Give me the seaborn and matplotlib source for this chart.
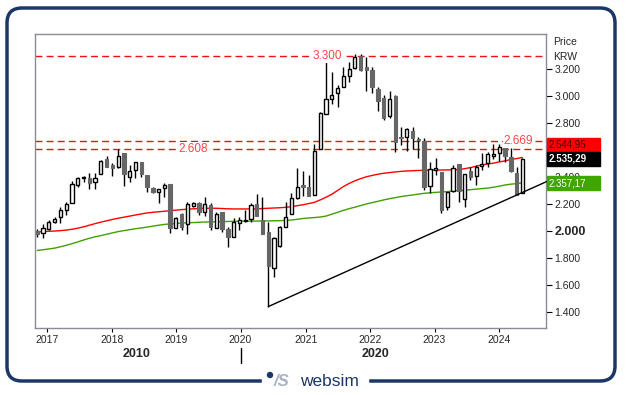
import pandas as pd
import seaborn as sns
import matplotlib.pyplot as plt
from matplotlib.patches import Rectangle, FancyBboxPatch, Circle

# Monthly candles (KRW)
opens = [2000, 1982, 2014, 2064, 2101, 2156, 2205, 2341, 2391, 2391, 2361, 2420, 2532, 2490, 2472,
         2576, 2403, 2453, 2509, 2415, 2319, 2292, 2316, 2349, 2024, 2126, 2049, 2188, 2205, 2143,
         2193, 2024, 2138, 2014, 1953, 2062, 2076, 2089, 2200, 2081, 1995, 1727, 1891, 2032, 2123,
         2247, 2341, 2329, 2267, 2608, 2868, 2977, 3022, 3071, 3151, 3207, 3299, 3215, 3195, 3054,
         2985, 2853, 3002, 2700, 2695, 2742, 2683, 2668, 2336, 2453, 2440, 2180, 2297, 2497, 2237,
         2448, 2410, 2485, 2502, 2556, 2581, 2646, 2547, 2428, 2279]
highs = [2014, 2052, 2081, 2101, 2180, 2217, 2373, 2403, 2410, 2428, 2428, 2527, 2556, 2507, 2608,
         2576, 2490, 2509, 2509, 2415, 2329, 2314, 2354, 2349, 2106, 2131, 2217, 2217, 2217, 2255,
         2210, 2143, 2138, 2032, 2094, 2106, 2156, 2205, 2274, 2255, 2069, 1958, 2037, 2212, 2279,
         2465, 2445, 2415, 2646, 2880, 3299, 3183, 3084, 3220, 3257, 3314, 3314, 3289, 3215, 3066,
         3009, 3039, 3009, 2774, 2767, 2774, 2695, 2688, 2514, 2544, 2440, 2292, 2490, 2497, 2423,
         2477, 2490, 2581, 2589, 2646, 2646, 2668, 2613, 2477, 2539]
lows = [1955, 1945, 2007, 2057, 2062, 2116, 2205, 2329, 2363, 2309, 2309, 2420, 2472, 2408, 2465,
        2336, 2366, 2396, 2398, 2292, 2279, 2210, 2255, 1982, 2024, 2007, 1977, 2180, 2116, 2111,
        2007, 2024, 1995, 1883, 1953, 2007, 2069, 2069, 2113, 1977, 1438, 1656, 1883, 2027, 2123,
        2235, 2262, 2262, 2267, 2608, 2868, 2943, 2923, 3066, 3108, 3200, 3190, 3042, 3022, 2893,
        2824, 2836, 2589, 2638, 2596, 2606, 2539, 2304, 2279, 2415, 2131, 2156, 2287, 2217, 2175,
        2378, 2341, 2453, 2477, 2532, 2519, 2514, 2440, 2267, 2279]
closes = [1980, 2022, 2064, 2086, 2153, 2200, 2346, 2391, 2401, 2358, 2391, 2519, 2472, 2465, 2559,
          2420, 2443, 2509, 2423, 2324, 2287, 2314, 2341, 2024, 2094, 2032, 2200, 2205, 2141, 2198,
          2032, 2126, 2014, 1958, 2069, 2081, 2081, 2193, 2113, 1977, 1742, 1945, 2027, 2101, 2242,
          2324, 2324, 2262, 2594, 2873, 2977, 3009, 3064, 3151, 3200, 3294, 3195, 3195, 3066, 2967,
          2836, 2980, 2663, 2688, 2754, 2688, 2675, 2329, 2457, 2465, 2156, 2287, 2465, 2297, 2423,
          2403, 2477, 2495, 2569, 2571, 2626, 2556, 2448, 2267, 2535]

# moving averages
ma_red = [1993, 1995, 1997, 1999, 2002, 2006, 2012, 2020, 2030, 2042, 2054, 2065, 2075, 2085, 2094,
          2102, 2110, 2118, 2126, 2133, 2138, 2142, 2146, 2150, 2154, 2158, 2161, 2164, 2167, 2168,
          2168, 2168, 2166, 2164, 2163, 2163, 2163, 2163, 2164, 2166, 2168, 2170, 2172, 2175, 2180,
          2187, 2194, 2203, 2212, 2230, 2250, 2272, 2300, 2329, 2352, 2372, 2388, 2402, 2412, 2421,
          2428, 2433, 2438, 2442, 2445, 2447, 2449, 2450, 2451, 2452, 2452, 2453, 2453, 2455, 2462,
          2470, 2480, 2490, 2497, 2503, 2512, 2520, 2530, 2537, 2545]
ma_green = [1855, 1860, 1866, 1872, 1882, 1893, 1905, 1918, 1932, 1945, 1956, 1965, 1975, 1985, 1995,
            2002, 2009, 2016, 2022, 2028, 2035, 2042, 2048, 2052, 2055, 2058, 2060, 2062, 2064, 2066,
            2067, 2068, 2069, 2070, 2071, 2072, 2072, 2073, 2073, 2074, 2074, 2075, 2076, 2078, 2081,
            2086, 2092, 2096, 2099, 2103, 2110, 2124, 2138, 2152, 2165, 2176, 2188, 2200, 2210, 2220,
            2230, 2239, 2247, 2255, 2261, 2267, 2273, 2279, 2283, 2286, 2289, 2292, 2296, 2299, 2302,
            2306, 2310, 2314, 2318, 2324, 2332, 2341, 2347, 2351, 2357]

# horizontal levels: (value, label, label position as candle index)
levels = [(3300, '3.300', 50.3), (2669, '2.669', 83.3), (2608, '2.608', 27.0)]
trend_x = [40, 88.2]
trend_y = [1438, 2366]

years = [2017, 2018, 2019, 2020, 2021, 2022, 2023, 2024]
year_pos = [1.73, 12.9, 24.1, 35.2, 46.5, 57.6, 68.8, 80.0]
price_ticks = [1400, 1600, 1800, 2000, 2200, 2400, 2600, 2800, 3000, 3200]
last_boxes = [('2.544,95', 145, '#ff0000', '#3a0000'),
              ('2.535,29', 159, '#000000', 'white'),
              ('2.357,17', 183, '#3fa600', 'white')]

df = pd.DataFrame({'open': opens, 'high': highs, 'low': lows, 'close': closes,
                   'red': ma_red, 'green': ma_green})
df['i'] = range(len(df))

sns.set_style('white')
plt.rcParams['font.family'] = ['Liberation Sans', 'DejaVu Sans']

W, H = 629, 395
fig = plt.figure(figsize=(W / 100, H / 100), dpi=100)
fx = lambda px: px / W
fy = lambda py: 1 - py / H
ax = fig.add_axes([fx(35), fy(328), fx(546) - fx(35), fy(34) - fy(328)])

# moving averages
sns.lineplot(data=df, x='i', y='red', ax=ax, color='#ff0000', lw=1, zorder=2)
sns.lineplot(data=df, x='i', y='green', ax=ax, color='#40a000', lw=1, zorder=2)

# candles
up = df['close'] >= df['open']
ax.vlines(df['i'], df['low'], df['high'], color='black', lw=1, zorder=3)
body_lo = df[['open', 'close']].min(axis=1)
body_h = (df['close'] - df['open']).abs().clip(lower=6)
ax.bar(df['i'][up], body_h[up], bottom=body_lo[up], width=0.55,
       color='white', edgecolor='black', lw=1, zorder=4)
ax.bar(df['i'][~up], body_h[~up], bottom=body_lo[~up], width=0.6,
       color='#666666', edgecolor='#666666', lw=0.8, zorder=4)

# levels
for val, lab, pos in levels:
    ax.axhline(val, color='#ee1111', lw=1, ls=(0, (5, 3)), zorder=1)
    ax.text(pos, val, lab, color='#ff4444', fontsize=8.5, ha='center', va='center',
            bbox=dict(facecolor='white', edgecolor='none', pad=0.5), zorder=5)

ax.plot(trend_x, trend_y, color='black', lw=1, zorder=5, clip_on=False)

ax.set_xlim(-0.4, 88.1)
ax.set_ylim(1279, 3462)
ax.set_xlabel('')
ax.set_ylabel('')

ax.set_xticks(year_pos)
ax.set_xticklabels([str(y) for y in years])
ax.yaxis.tick_right()
ax.set_yticks(price_ticks)
ax.set_yticklabels([f'{v:,}'.replace(',', '.') for v in price_ticks])
ax.tick_params(axis='x', bottom=True, direction='out', length=3, width=0.8, pad=2,
               labelsize=7.5, color='black')
ax.tick_params(axis='y', right=True, direction='out', length=4, width=0.8, pad=2,
               labelsize=7.5, color='black')
for t in ax.get_yticklabels():
    if t.get_text() == '2.000':
        t.set_fontweight('bold')
        t.set_fontsize(9)
for s in ax.spines.values():
    s.set_color('#8a8a99')
    s.set_linewidth(1)

fig.text(fx(553), fy(42), 'Price', fontsize=7.5, va='center')
fig.text(fx(553), fy(57), 'KRW', fontsize=7.5, va='center')

# last value boxes
for txt, yc, bg, fg in last_boxes:
    fig.add_artist(Rectangle((fx(547), fy(yc + 7)), fx(600) - fx(547), 14 / H,
                             transform=fig.transFigure, color=bg, zorder=10))
    fig.text(fx(549), fy(yc), txt, fontsize=7, color=fg, va='center', zorder=11,
             fontweight='bold' if bg == '#000000' else 'normal')

# decade labels under the axis
fig.text(fx(137), fy(354), '2010', fontsize=9, fontweight='bold', ha='center', va='center')
fig.text(fx(376), fy(354), '2020', fontsize=9, fontweight='bold', ha='center', va='center')
fig.add_artist(plt.Line2D([fx(241), fx(241)], [fy(348), fy(363)], color='black', lw=1))

# outer rounded frame
fig.add_artist(FancyBboxPatch((7 / 100, (H - 381) / 100), 608 / 100, 373 / 100,
                              boxstyle='round,pad=0,rounding_size=0.15',
                              transform=fig.dpi_scale_trans, facecolor='none',
                              edgecolor='#1b3768', lw=2.5, zorder=0))
fig.add_artist(Rectangle((fx(262), fy(392)), fx(368) - fx(262), 20 / H,
                         transform=fig.transFigure, color='white', zorder=12))
fig.add_artist(Circle((2.70, (H - 375) / 100), 0.025, transform=fig.dpi_scale_trans,
                      color='#1b3768', zorder=13))
fig.text(fx(274), fy(382), '/S', fontsize=12, fontweight='bold', fontstyle='italic',
         color='#a9b1c2', va='center', zorder=13)
fig.text(fx(300), fy(381), 'websim', fontsize=12.5, color='#1b3768', va='center', zorder=13)

fig.savefig('out.png', dpi=100)
